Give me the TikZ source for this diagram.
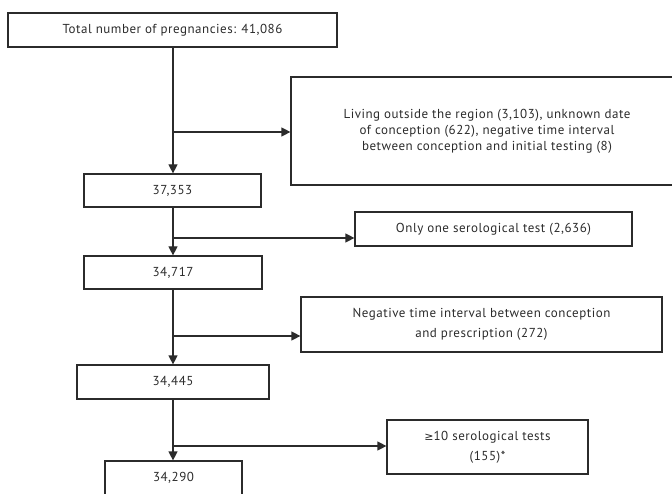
\documentclass[tikz,border=0pt]{standalone}
\usepackage{fontspec}
\setmainfont{PT Sans}[LetterSpace=4]
\usetikzlibrary{arrows.meta,positioning,calc}
\definecolor{ink}{HTML}{2B2B2B}
\tikzset{
  box/.style={draw=ink, line width=1.2pt, rectangle, inner sep=0pt, text=ink, font=\fontsize{13}{16}\selectfont, align=center},
  arr/.style={draw=ink, line width=1.2pt, -{Triangle[length=9pt,width=9pt]}},
  ln/.style={draw=ink, line width=1.2pt}
}
\begin{document}
\begin{tikzpicture}[x=1pt,y=-1pt]
\useasboundingbox (0,0) rectangle (672,494);
\node[box, minimum width=329pt, minimum height=34pt] (b1) at (172.5,30) {Total number of pregnancies: 41,086};
\node[box, minimum width=177pt, minimum height=33pt] (b2) at (172.5,190.5) {37,353};
\node[box, minimum width=178pt, minimum height=33pt] (b3) at (173,272.5) {34,717};
\node[box, minimum width=192pt, minimum height=34pt] (b4) at (173,382) {34,445};
\node[box, minimum width=137pt, minimum height=34pt] (b5) at (173.5,478) {34,290};
\node[box, minimum width=392pt, minimum height=108pt, font=\fontsize{13}{16}\selectfont] (r1) at (487,131) {Living outside the region (3,103), unknown date\\of conception (622), negative time interval\\between conception and initial testing (8)};
\node[box, minimum width=277pt, minimum height=34pt] (r2) at (493.5,229) {Only one serological test (2,636)};
\node[box, minimum width=361pt, minimum height=55pt, font=\fontsize{13}{20}\selectfont] (r3) at (481.5,324.5) {Negative time interval between conception\\and prescription (272)};
\node[box, minimum width=201pt, minimum height=54pt, font=\fontsize{13}{20}\selectfont] (r4) at (487.5,447) {{\fontspec{DejaVu Sans}\fontsize{11}{20}\selectfont ≥}10 serological tests\\(155)*};
\coordinate (j1) at (173,132);
\coordinate (j2) at (173,238);
\coordinate (j3) at (173,336);
\coordinate (j4) at (173,446);
\draw[arr] (b1.south -| j1) -- (b2.north -| j1);
\draw[arr] (b2.south -| j2) -- (b3.north -| j2);
\draw[arr] (b3.south -| j3) -- (b4.north -| j3);
\draw[arr] (b4.south -| j4) -- (b5.north -| j4);
\draw[arr] (j1) -- (j1 -| r1.west);
\draw[arr] (j2) -- (j2 -| r2.west);
\draw[arr] (j3) -- (j3 -| r3.west);
\draw[arr] (j4) -- (j4 -| r4.west);
\end{tikzpicture}
\end{document}
